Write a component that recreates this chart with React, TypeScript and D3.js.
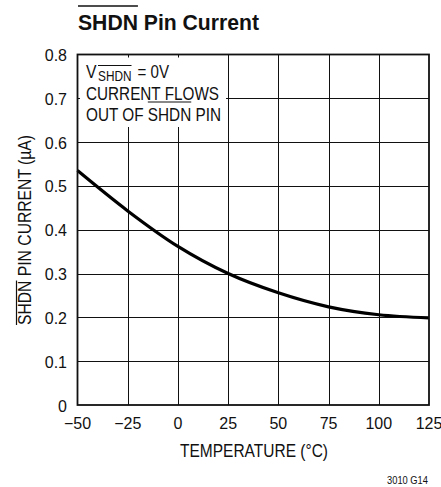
import React, { useEffect, useRef } from "react";
import * as d3 from "d3";

const temperatures = [-50, -25, 0, 25, 50, 75, 100, 125];
const shdnCurrent = [0.535, 0.443, 0.362, 0.3, 0.256, 0.224, 0.206, 0.199];
const xTicks = [-50, -25, 0, 25, 50, 75, 100, 125];
const xTickLabels = ["\u221250", "\u221225", "0", "25", "50", "75", "100", "125"];
const yTicks = [0, 0.1, 0.2, 0.3, 0.4, 0.5, 0.6, 0.7, 0.8];
const yTickLabels = ["0", "0.1", "0.2", "0.3", "0.4", "0.5", "0.6", "0.7", "0.8"];

const W = 441;
const H = 487;
const SANS = "'Liberation Sans', Arial, sans-serif";
const INK = "#111";

type Sel = d3.Selection<SVGTextElement, unknown, null, undefined>;

// compress text to a given width; returns the scale factor applied
function fit(sel: Sel, length: number): number {
  const node = sel.node() as SVGTextElement;
  const natural = node.getComputedTextLength();
  sel.attr("textLength", length).attr("lengthAdjust", "spacingAndGlyphs");
  return length / natural;
}

export default function App() {
  const ref = useRef<SVGSVGElement>(null);

  useEffect(() => {
    const svg = d3.select(ref.current);
    svg.selectAll("*").remove();

    const x = d3.scaleLinear().domain([-50, 125]).range([77.5, 429]);
    const y = d3.scaleLinear().domain([0, 0.8]).range([405, 54.5]);

    // grid
    svg
      .append("g")
      .selectAll("line")
      .data(xTicks.slice(1, -1))
      .join("line")
      .attr("x1", (d) => Math.round(x(d)) + 0.5)
      .attr("x2", (d) => Math.round(x(d)) + 0.5)
      .attr("y1", y(0))
      .attr("y2", y(0.8))
      .attr("stroke", INK)
      .attr("stroke-width", 1);
    svg
      .append("g")
      .selectAll("line")
      .data(yTicks.slice(1, -1))
      .join("line")
      .attr("x1", x(-50))
      .attr("x2", x(125))
      .attr("y1", (d) => Math.round(y(d)) + 0.5)
      .attr("y2", (d) => Math.round(y(d)) + 0.5)
      .attr("stroke", INK)
      .attr("stroke-width", 1);

    // legend mask
    svg
      .append("rect")
      .attr("x", 80)
      .attr("y", 57.5)
      .attr("width", 146)
      .attr("height", 69.5)
      .attr("fill", "#fff");

    // curve
    const line = d3
      .line<number>()
      .x((_, i) => x(temperatures[i]))
      .y((d) => y(d))
      .curve(d3.curveMonotoneX);
    svg
      .append("path")
      .attr("d", line(shdnCurrent))
      .attr("fill", "none")
      .attr("stroke", "#000")
      .attr("stroke-width", 3.2);

    // frame
    svg
      .append("rect")
      .attr("x", x(-50))
      .attr("y", y(0.8))
      .attr("width", x(125) - x(-50))
      .attr("height", y(0) - y(0.8))
      .attr("fill", "none")
      .attr("stroke", INK)
      .attr("stroke-width", 1.8);

    // tick labels
    svg
      .append("g")
      .selectAll("text")
      .data(yTicks)
      .join("text")
      .attr("x", 67)
      .attr("y", (d) => y(d) + 6.5)
      .attr("text-anchor", "end")
      .attr("font-family", SANS)
      .attr("font-size", 16)
      .attr("fill", INK)
      .text((_, i) => yTickLabels[i]);
    svg
      .append("g")
      .selectAll("text")
      .data(xTicks)
      .join("text")
      .attr("x", (d) => x(d))
      .attr("y", 429)
      .attr("text-anchor", "middle")
      .attr("font-family", SANS)
      .attr("font-size", 16)
      .attr("fill", INK)
      .text((_, i) => xTickLabels[i]);

    // x title
    const xt = svg
      .append("text")
      .attr("x", 254)
      .attr("y", 456.5)
      .attr("text-anchor", "middle")
      .attr("font-family", SANS)
      .attr("font-size", 17.5)
      .attr("fill", INK)
      .text("TEMPERATURE (\u00B0C)");
    fit(xt, 148);

    // y title (rotated) with overline on SHDN
    const yg = svg.append("g").attr("transform", "translate(31,230) rotate(-90)");
    const yt = yg
      .append("text")
      .attr("x", 0)
      .attr("y", 0)
      .attr("text-anchor", "middle")
      .attr("font-family", SANS)
      .attr("font-size", 17.5)
      .attr("fill", INK)
      .text("SHDN PIN CURRENT (\u00B5A)");
    {
      const node = yt.node() as SVGTextElement;
      const sub = node.getSubStringLength(0, 4);
      const total = 190;
      const k = fit(yt, total);
      yg.append("line")
        .attr("x1", -total / 2)
        .attr("x2", -total / 2 + sub * k)
        .attr("y1", -14.5)
        .attr("y2", -14.5)
        .attr("stroke", INK)
        .attr("stroke-width", 1.2);
    }

    // title
    const title = svg
      .append("text")
      .attr("x", 78)
      .attr("y", 29.5)
      .attr("font-family", SANS)
      .attr("font-weight", "bold")
      .attr("font-size", 22)
      .attr("fill", INK)
      .text("SHDN Pin Current");
    {
      const node = title.node() as SVGTextElement;
      const sub = node.getSubStringLength(0, 4);
      const k = fit(title, 181);
      svg
        .append("line")
        .attr("x1", 78)
        .attr("x2", 78 + sub * k)
        .attr("y1", 6)
        .attr("y2", 6)
        .attr("stroke", INK)
        .attr("stroke-width", 1.6);
    }

    // legend text
    const lx = 86;
    const v = svg
      .append("text")
      .attr("x", lx)
      .attr("y", 77.5)
      .attr("font-family", SANS)
      .attr("font-size", 17.5)
      .attr("fill", INK)
      .text("V");
    fit(v, 10.5);
    const vs = svg
      .append("text")
      .attr("x", 98)
      .attr("y", 80.5)
      .attr("font-family", SANS)
      .attr("font-size", 15)
      .attr("fill", INK)
      .text("SHDN");
    fit(vs, 33.5);
    svg
      .append("line")
      .attr("x1", 98)
      .attr("x2", 131.5)
      .attr("y1", 65.5)
      .attr("y2", 65.5)
      .attr("stroke", INK)
      .attr("stroke-width", 1.1);
    const veq = svg
      .append("text")
      .attr("x", 137.5)
      .attr("y", 77.5)
      .attr("font-family", SANS)
      .attr("font-size", 17.5)
      .attr("fill", INK)
      .text("= 0V");
    fit(veq, 31.5);

    const l2 = svg
      .append("text")
      .attr("x", lx)
      .attr("y", 99.5)
      .attr("font-family", SANS)
      .attr("font-size", 17.5)
      .attr("fill", INK)
      .text("CURRENT FLOWS");
    fit(l2, 133);
    const l3 = svg
      .append("text")
      .attr("x", lx)
      .attr("y", 120.5)
      .attr("font-family", SANS)
      .attr("font-size", 17.5)
      .attr("fill", INK)
      .text("OUT OF SHDN PIN");
    {
      const node = l3.node() as SVGTextElement;
      const pre = node.getSubStringLength(0, 7);
      const sW = node.getSubStringLength(7, 4);
      const k = fit(l3, 135);
      svg
        .append("line")
        .attr("x1", lx + pre * k)
        .attr("x2", lx + (pre + sW) * k)
        .attr("y1", 102)
        .attr("y2", 102)
        .attr("stroke", INK)
        .attr("stroke-width", 1.1);
    }

    // figure code
    const code = svg
      .append("text")
      .attr("x", 387)
      .attr("y", 484)
      .attr("font-family", SANS)
      .attr("font-size", 11)
      .attr("fill", INK)
      .text("3010 G14");
    fit(code, 41);
  }, []);

  return (
    <svg
      ref={ref}
      width={W}
      height={H}
      style={{ position: "absolute", left: 0, top: 0, background: "#fff" }}
    />
  );
}
